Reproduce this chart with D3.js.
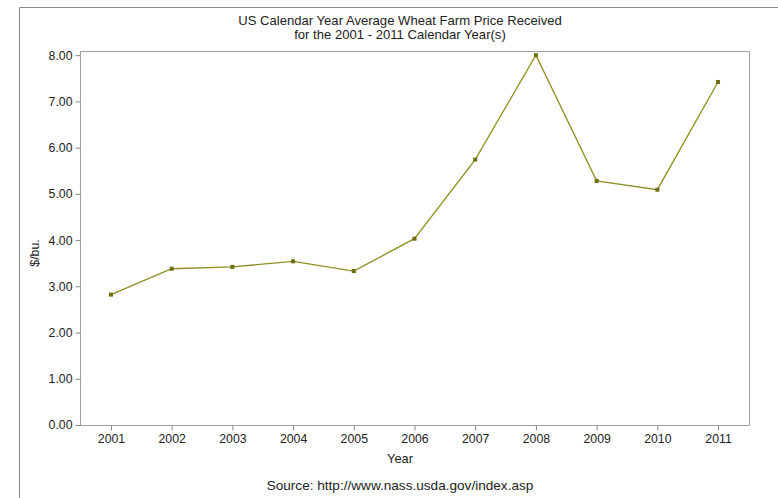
<!DOCTYPE html>
<html>
<head>
<meta charset="utf-8">
<script src="https://cdn.jsdelivr.net/npm/d3@7"></script>
<style>
  html, body { margin: 0; padding: 0; background: #fff; }
  svg text { font-family: "Liberation Sans", Arial, sans-serif; fill: #222; }
</style>
</head>
<body>
<svg id="chart" width="778" height="498"></svg>
<script>
const years = ["2001","2002","2003","2004","2005","2006","2007","2008","2009","2010","2011"];
const prices = [2.82, 3.38, 3.42, 3.54, 3.33, 4.03, 5.74, 8.00, 5.28, 5.09, 7.42];
const yTicks = [0, 1, 2, 3, 4, 5, 6, 7, 8];
const titleLines = ["US Calendar Year Average Wheat Farm Price Received", "for the 2001 - 2011 Calendar Year(s)"];
const xLabel = "Year";
const yLabel = "$/bu.";
const sourceText = "Source: http://www.nass.usda.gov/index.asp";

const svg = d3.select("#chart");
const plot = { left: 80, right: 749, top: 51, bottom: 425 };
const FONT = '"Liberation Sans", Arial, sans-serif';

// outer frame
svg.append("path")
  .attr("d", "M19.5,520 V7.5 H800")
  .attr("fill", "none").attr("stroke", "#8a8a8a").attr("stroke-width", 1);

const x = d3.scalePoint().domain(years).range([plot.left, plot.right]).padding(0.51);
const y = d3.scaleLinear().domain([0, 8.09]).range([plot.bottom, plot.top]);

// plot frame
svg.append("rect")
  .attr("x", plot.left + 0.5).attr("y", plot.top + 0.5)
  .attr("width", plot.right - plot.left).attr("height", plot.bottom - plot.top)
  .attr("fill", "none").attr("stroke", "#a0a0a0");

// y axis
const yAxis = d3.axisLeft(y).tickValues(yTicks).tickFormat(d3.format(".2f")).tickSize(5).tickPadding(3);
const gy = svg.append("g").attr("transform", `translate(${plot.left + 0.5},0)`).call(yAxis);
gy.select(".domain").remove();
gy.selectAll(".tick line").attr("stroke", "#8a8a8a");
gy.selectAll(".tick text").attr("font-size", 12.3).attr("font-family", FONT).attr("fill", "#222");

// x axis
const xAxis = d3.axisBottom(x).tickSize(5).tickPadding(4);
const gx = svg.append("g").attr("transform", `translate(0,${plot.bottom + 0.5})`).call(xAxis);
gx.select(".domain").remove();
gx.selectAll(".tick line").attr("stroke", "#8a8a8a");
gx.selectAll(".tick text").attr("font-size", 12.3).attr("font-family", FONT).attr("fill", "#222");

// line
const line = d3.line().x((d, i) => x(years[i])).y(d => y(d));
svg.append("path").datum(prices)
  .attr("d", line).attr("fill", "none")
  .attr("stroke", "#8f8f22").attr("stroke-width", 1.3);

// markers
svg.selectAll("rect.pt").data(prices).enter().append("rect")
  .attr("class", "pt")
  .attr("x", (d, i) => x(years[i]) - 2).attr("y", d => y(d) - 2)
  .attr("width", 4).attr("height", 4)
  .attr("fill", "#6e6e10");

// titles
const cx = 400;
svg.append("text").attr("x", cx).attr("y", 24.5).attr("text-anchor", "middle")
  .attr("font-size", 13.1).text(titleLines[0]);
svg.append("text").attr("x", cx).attr("y", 39).attr("text-anchor", "middle")
  .attr("font-size", 13.1).text(titleLines[1]);

svg.append("text").attr("x", 400).attr("y", 463).attr("text-anchor", "middle")
  .attr("font-size", 12.8).text(xLabel);

svg.append("text").attr("transform", "translate(39,253) rotate(-90)")
  .attr("text-anchor", "middle").attr("font-size", 12.3).text(yLabel);

svg.append("text").attr("x", 400).attr("y", 490).attr("text-anchor", "middle")
  .attr("font-size", 13.6).text(sourceText);
</script>
</body>
</html>
